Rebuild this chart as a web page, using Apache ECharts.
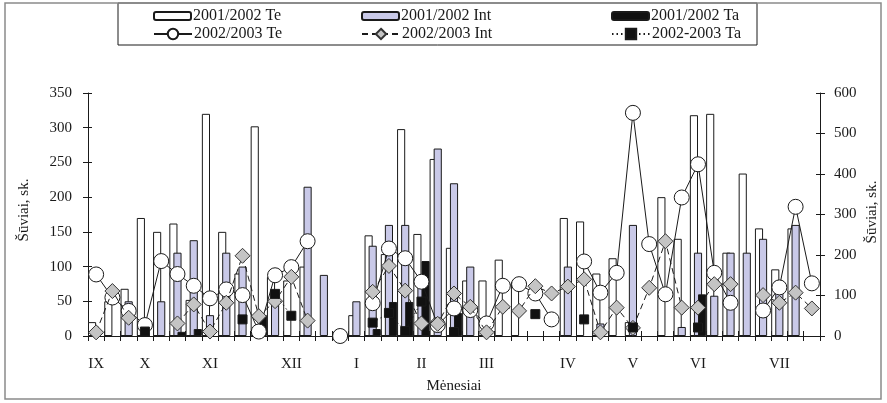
<!DOCTYPE html>
<html>
<head>
<meta charset="utf-8">
<script src="https://cdn.jsdelivr.net/npm/echarts@6/dist/echarts.min.js"></script>
<style>
  html, body { margin: 0; padding: 0; background: #fff; }
  #chart { width: 887px; height: 403px; }
</style>
</head>
<body>
<div id="chart"></div>
<script>
// Weekly counts, September to July (45 weeks)
const weekIds = Array.from({ length: 45 }, (_, i) => 'w' + i);
const monthLabels = {
  0: 'IX', 3: 'X', 7: 'XI', 12: 'XII', 16: 'I', 20: 'II',
  24: 'III', 29: 'IV', 33: 'V', 37: 'VI', 42: 'VII'
};

// 2001/2002 season (bars, left axis)
const te2001 = [20, 50, 68, 170, 150, 162, 52, 320, 150, 90, 302, 85, 80, 100, null, null,
  30, 145, 118, 298, 147, 255, 127, 80, 80, 110, 78, null, null, 170, 165, 90, 112, 20, null,
  200, 140, 318, 320, 120, 234, 155, 96, 155, null];
const int2001 = [null, null, 50, null, 50, 120, 138, 30, 120, 100, null, 60, null, 215, 88, null,
  50, 130, 160, 160, 85, 270, 220, 100, null, null, null, null, null, 100, null, 18, null, 160, null,
  null, 13, 120, 58, 120, 120, 140, 80, 160, null];
const ta2001 = [null, null, null, null, null, 6, 10, null, null, null, 30, null, null, null, null, null,
  null, 10, 49, 49, 108, null, 33, null, null, null, null, null, null, null, null, null, null, null, null,
  null, null, 60, null, null, null, null, null, null, null];

// 2002/2003 season (lines, right axis)
const te2002 = [152, 95, 62, 27, 185, 153, 124, 93, 115, 101, 11, 150, 170, 234, null, 0,
  null, 81, 216, 192, 134, 27, 68, 64, 31, 124, 128, 105, 41, null, 184, 107, 156, 551, 227,
  103, 342, 424, 156, 82, null, 63, 120, 319, 130];
const int2002 = [9, 111, 45, null, null, 31, 78, 11, 82, 198, 49, 86, 146, 38, null, null,
  null, 109, 173, 112, 31, 30, 105, 72, 9, 72, 62, 123, 105, 122, 140, 9, 70, 20, 119,
  234, 70, 70, 128, 128, null, 101, 82, 107, 68];
const ta2002 = [null, null, null, 11, null, null, null, null, null, 41, null, 104, 50, null, null, null,
  null, 33, 57, 12, 85, null, 10, null, null, null, null, 54, null, null, 41, null, null, 21, null,
  null, null, 21, null, null, null, null, null, null, null];

const leftTicks = { min: 0, max: 350, interval: 50 };
const rightTicks = { min: 0, max: 600, interval: 100 };

const FONT = 'Liberation Serif';
const INK = '#1a1a1a';
const LAVENDER = '#c9c9e8';
const DIAMOND = '#c4c4c4';

const chart = echarts.init(document.getElementById('chart'), null, { renderer: 'canvas' });

const tickStyle = { color: INK, width: 1 };
const labelStyle = { fontFamily: FONT, fontSize: 15, color: INK };

function legendItem(name, left, top, w, h) {
  return {
    data: [name], left: left, top: top, itemWidth: w, itemHeight: h, itemGap: 0,
    selectedMode: false, padding: 0,
    textStyle: { fontFamily: FONT, fontSize: 16, color: INK, padding: [0, 0, 0, -3] }
  };
}

const option = {
  backgroundColor: '#fff',
  animation: false,
  grid: { left: 88, right: 67, top: 93, bottom: 67, containLabel: false },
  legend: [
    legendItem('2001/2002 Te', 153, 8, 37, 8),
    legendItem('2001/2002 Int', 361, 8, 37, 8),
    legendItem('2001/2002 Ta', 611, 8, 37, 8),
    legendItem('2002/2003 Te', 153, 26, 38, 13),
    legendItem('2002/2003 Int', 361, 26, 38, 13),
    legendItem('2002-2003 Ta', 611, 26, 38, 13)
  ],
  graphic: [
    { type: 'rect', shape: { x: 5, y: 3, width: 876, height: 396 },
      style: { fill: 'none', stroke: '#8a8a8a', lineWidth: 1.5 }, silent: true },
    { type: 'rect', shape: { x: 118, y: 3, width: 639, height: 42 },
      style: { fill: 'none', stroke: INK, lineWidth: 1 }, silent: true, z: -1 },
    { type: 'text', x: 24, y: 210, rotation: Math.PI / 2,
      style: { text: 'Šūviai, sk.', font: '15px ' + FONT, fill: INK, textAlign: 'center', textVerticalAlign: 'middle' } },
    { type: 'text', x: 872, y: 212, rotation: Math.PI / 2,
      style: { text: 'Šūviai, sk.', font: '15px ' + FONT, fill: INK, textAlign: 'center', textVerticalAlign: 'middle' } },
    { type: 'text', x: 454, y: 386,
      style: { text: 'Mėnesiai', font: '15px ' + FONT, fill: INK, textAlign: 'center', textVerticalAlign: 'middle' } }
  ],
  xAxis: [
    {
      type: 'category', data: weekIds, position: 'bottom', boundaryGap: true,
      axisLine: { lineStyle: { color: INK, width: 1 } },
      axisTick: { show: true, interval: 0, length: 5, lineStyle: tickStyle },
      axisLabel: { interval: 0, margin: 21, ...labelStyle, formatter: (v, i) => monthLabels[i] || '' },
      splitLine: { show: false }
    },
    {
      type: 'category', data: weekIds, position: 'bottom', boundaryGap: true,
      axisLine: { show: false },
      axisTick: { show: true, inside: true, interval: 0, length: 5, lineStyle: tickStyle },
      axisLabel: { show: false }, splitLine: { show: false }
    }
  ],
  yAxis: [
    {
      type: 'value', position: 'left', ...leftTicks,
      axisLine: { show: true, lineStyle: { color: INK, width: 1 } },
      axisTick: { show: true, length: 5, lineStyle: tickStyle },
      axisLabel: { margin: 16, ...labelStyle }, splitLine: { show: false }
    },
    {
      type: 'value', position: 'right', ...rightTicks,
      axisLine: { show: true, lineStyle: { color: INK, width: 1 } },
      axisTick: { show: true, length: 5, lineStyle: tickStyle },
      axisLabel: { margin: 14, ...labelStyle }, splitLine: { show: false }
    },
    {
      type: 'value', position: 'left', ...leftTicks,
      axisLine: { show: false }, axisTick: { show: true, inside: true, length: 4, lineStyle: tickStyle },
      axisLabel: { show: false }, splitLine: { show: false }
    },
    {
      type: 'value', position: 'right', ...rightTicks,
      axisLine: { show: false }, axisTick: { show: true, inside: true, length: 4, lineStyle: tickStyle },
      axisLabel: { show: false }, splitLine: { show: false }
    }
  ],
  series: [
    {
      name: '2001/2002 Te', type: 'bar', data: te2001, yAxisIndex: 0,
      barCategoryGap: '0%', barGap: '-50%',
      itemStyle: { color: '#ffffff', borderColor: INK, borderWidth: 1 }, z: 2
    },
    {
      name: '2001/2002 Int', type: 'bar', data: int2001, yAxisIndex: 0,
      barCategoryGap: '0%', barGap: '-50%',
      itemStyle: { color: LAVENDER, borderColor: INK, borderWidth: 1 }, z: 2
    },
    {
      name: '2001/2002 Ta', type: 'bar', data: ta2001, yAxisIndex: 0,
      barCategoryGap: '0%', barGap: '-50%',
      itemStyle: { color: '#111111', borderColor: INK, borderWidth: 1 }, z: 2
    },
    {
      name: '2002/2003 Te', type: 'line', data: te2002, yAxisIndex: 1, connectNulls: false,
      symbol: 'circle', symbolSize: 15, showAllSymbol: true,
      lineStyle: { color: INK, width: 1 },
      itemStyle: { color: '#ffffff', borderColor: INK, borderWidth: 1 }, z: 3
    },
    {
      name: '2002/2003 Int', type: 'line', data: int2002, yAxisIndex: 1, connectNulls: false,
      symbol: 'diamond', symbolSize: 15, showAllSymbol: true,
      lineStyle: { color: INK, width: 1, type: [6, 4] },
      itemStyle: { color: DIAMOND, borderColor: '#333', borderWidth: 1 }, z: 4
    },
    {
      name: '2002-2003 Ta', type: 'line', data: ta2002, yAxisIndex: 1, connectNulls: false,
      symbol: 'rect', symbolSize: 9, showAllSymbol: true,
      lineStyle: { color: INK, width: 1, type: [1.5, 3] },
      itemStyle: { color: '#111111', borderColor: INK, borderWidth: 1 }, z: 5
    }
  ]
};

chart.setOption(option);
</script>
</body>
</html>
